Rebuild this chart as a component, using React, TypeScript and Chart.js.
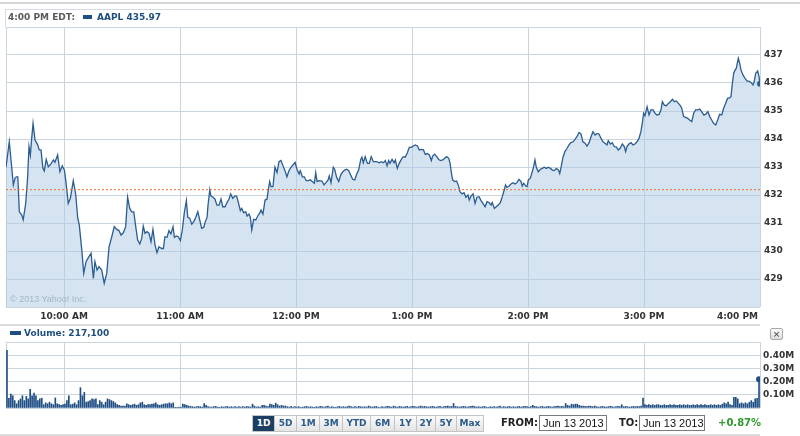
import React, { useEffect, useRef } from 'react';
import { Chart, registerables } from 'chart.js';
Chart.register(...registerables);

// minutes after 9:30 AM
const priceMinutes = [
  0, 1.7, 2.6, 3.8, 4.7, 5.3, 6.1, 6.9, 8.1, 8.9, 10.2, 11.2, 11.9, 12.6, 13.3, 14.0, 15.0, 16.4, 17.2, 18.1,
  19.1, 19.8, 20.8, 21.9, 23.3, 24.5, 25.3, 26.7, 27.9, 29.1, 30.2, 31.0, 32.2, 33.3, 34.8, 36.1, 37.1, 37.9, 39.2, 40.2,
  41.4, 42.9, 44.0, 45.2, 46.0, 47.1, 48.1, 49.5, 50.8, 52.1, 53.3, 54.7, 56.0, 57.3, 58.4, 59.5, 60.7, 61.9, 62.9, 64.0,
  65.0, 66.1, 67.1, 68.1, 69.2, 70.2, 71.0, 71.9, 72.9, 74.0, 75.0, 76.0, 77.1, 78.1, 79.1, 80.5, 81.4, 82.2, 83.3, 84.3,
  85.3, 86.4, 87.1, 88.1, 89.1, 90.2, 91.2, 92.2, 93.3, 94.0, 95.0, 96.1, 97.1, 98.1, 99.2, 100.2, 101.2, 102.3, 103.1, 104.0,
  104.5, 105.4, 106.0, 107.1, 108.1, 109.1, 110.2, 111.2, 112.1, 113.3, 114.3, 115.3, 116.2, 117.3, 118.3, 119.3, 120.2, 121.2, 121.9, 122.9,
  124.0, 124.7, 125.7, 126.4, 127.1, 128.1, 129.2, 130.2, 131.2, 131.9, 132.9, 134.0, 135.0, 135.7, 136.4, 137.1, 138.1, 139.1, 140.2, 141.2,
  142.2, 143.3, 144.3, 145.3, 146.4, 147.4, 148.4, 149.5, 150.5, 151.6, 152.2, 153.3, 154.3, 155.3, 156.4, 157.4, 158.4, 159.5, 160.2, 160.9,
  161.9, 163.4, 164.5, 165.5, 166.6, 167.2, 168.1, 169.3, 170.0, 171.0, 172.1, 173.1, 174.2, 175.2, 176.2, 177.3, 178.3, 179.3, 180.4, 181.4,
  182.4, 183.5, 184.1, 184.8, 185.8, 186.9, 187.9, 188.9, 190.0, 191.0, 192.1, 193.1, 194.1, 195.2, 196.2, 197.1, 197.9, 198.6, 199.7, 200.7,
  201.4, 202.4, 203.4, 204.5, 205.5, 206.5, 207.6, 208.6, 209.7, 210.7, 211.7, 212.8, 213.8, 214.8, 215.9, 216.9, 217.9, 219.0, 220.0, 220.7,
  221.7, 222.8, 223.8, 224.8, 225.9, 226.9, 227.9, 229.0, 229.7, 230.3, 231.0, 232.1, 233.1, 234.2, 234.8, 235.9, 236.9, 237.9, 239.0, 239.6,
  240.5, 241.6, 242.6, 243.6, 244.7, 245.7, 246.7, 247.8, 248.8, 249.8, 250.9, 251.5, 252.6, 253.6, 254.6, 255.7, 256.7, 257.7, 258.4, 259.1,
  260.2, 261.2, 262.2, 263.3, 264.3, 265.3, 266.4, 267.0, 267.8, 268.8, 269.5, 270.2, 271.2, 272.2, 272.9, 273.6, 274.3, 275.3, 276.4, 277.4,
  278.4, 279.5, 280.5, 281.6, 282.6, 283.6, 284.7, 285.7, 286.4, 287.1, 288.1, 289.1, 290.2, 291.2, 292.2, 293.3, 294.3, 295.3, 296.4, 297.4,
  298.4, 299.5, 300.5, 301.6, 302.6, 303.6, 304.7, 305.7, 306.7, 307.8, 308.8, 309.8, 310.9, 311.5, 312.6, 313.6, 314.6, 315.7, 316.7, 317.7,
  318.8, 319.8, 320.5, 321.2, 322.2, 323.3, 324.3, 325.3, 326.4, 327.4, 328.4, 329.1, 329.8, 330.5, 331.6, 332.6, 333.6, 334.7, 335.7, 336.7,
  337.8, 338.8, 339.5, 340.5, 341.6, 342.6, 343.6, 344.7, 345.7, 346.7, 347.8, 348.8, 349.5, 350.5, 351.6, 352.6, 353.6, 354.7, 355.7, 356.7,
  357.8, 358.8, 359.8, 360.9, 361.9, 363.0, 364.0, 365.0, 366.0, 367.1, 368.1, 369.1, 370.2, 371.2, 372.2, 373.2, 374.3, 375.0, 375.6, 376.4,
  377.1, 377.7, 378.8, 379.5, 380.2, 381.2, 382.2, 383.3, 384.3, 385.3, 386.4, 387.0, 387.8, 388.8, 389.5, 390.0,
];

const prices = [
  432.99, 433.90, 433.25, 432.36, 432.60, 432.65, 432.65, 431.40, 431.29, 431.11, 431.70, 432.65, 433.73, 433.43, 434.03, 434.56, 433.96, 433.79, 433.61, 433.61,
  432.95, 432.86, 433.27, 433.01, 433.11, 433.25, 433.17, 433.43, 432.83, 433.04, 432.89, 432.48, 431.70, 431.88, 432.51, 432.00, 431.17, 430.93, 430.04, 429.20,
  429.62, 429.80, 429.92, 429.02, 429.62, 429.32, 429.44, 429.32, 428.85, 429.20, 430.15, 430.51, 430.87, 430.77, 430.73, 430.57, 430.65, 430.87, 431.92, 431.52,
  431.40, 431.40, 430.87, 430.39, 430.25, 430.45, 430.89, 430.63, 430.69, 430.63, 430.33, 430.77, 430.21, 429.94, 430.15, 430.09, 430.09, 430.51, 430.49, 430.73,
  430.61, 430.87, 430.49, 430.54, 430.51, 430.37, 430.75, 431.35, 431.80, 431.20, 431.17, 430.96, 431.05, 431.20, 431.40, 431.11, 430.81, 430.85, 431.05, 431.20,
  431.64, 432.18, 431.96, 431.92, 431.85, 431.64, 431.64, 431.86, 431.58, 431.58, 431.73, 431.85, 432.04, 431.88, 431.96, 431.96, 431.73, 431.44, 431.52, 431.37,
  431.40, 431.25, 431.32, 431.20, 430.75, 431.13, 431.11, 431.25, 431.35, 431.46, 431.32, 431.82, 431.85, 432.20, 432.48, 432.30, 432.30, 432.99, 432.80, 433.19,
  433.23, 433.04, 432.87, 432.65, 432.87, 432.99, 433.07, 433.17, 432.92, 432.75, 432.87, 432.65, 432.65, 432.51, 432.51, 432.54, 432.48, 432.42, 432.80, 432.48,
  432.51, 432.50, 432.36, 432.44, 432.54, 432.68, 432.44, 432.99, 432.92, 432.63, 432.48, 432.71, 432.83, 432.89, 432.92, 432.87, 432.71, 432.56, 432.54, 432.75,
  432.89, 433.27, 433.35, 433.15, 433.37, 433.13, 433.13, 433.37, 433.19, 433.19, 433.18, 433.15, 433.19, 433.15, 433.23, 433.04, 433.23, 433.13, 433.27, 433.15,
  433.25, 432.95, 433.13, 433.27, 433.37, 433.35, 433.51, 433.70, 433.70, 433.75, 433.79, 433.75, 433.61, 433.63, 433.61, 433.45, 433.48, 433.43, 433.23, 433.39,
  433.46, 433.37, 433.27, 433.23, 433.25, 433.31, 433.37, 433.31, 433.13, 432.83, 432.54, 432.48, 432.50, 432.30, 432.12, 432.04, 432.08, 431.92, 432.00, 431.82,
  431.96, 432.04, 431.70, 431.92, 431.94, 431.80, 431.70, 431.58, 431.76, 431.73, 431.64, 431.73, 431.52, 431.58, 431.64, 431.73, 431.94, 432.18, 432.36, 432.27,
  432.32, 432.39, 432.44, 432.39, 432.44, 432.56, 432.48, 432.32, 432.42, 432.32, 432.30, 432.54, 432.60, 432.83, 433.01, 433.25, 432.99, 432.83, 432.92, 432.95,
  432.99, 432.95, 432.99, 432.95, 432.89, 432.87, 432.95, 432.89, 432.77, 432.99, 433.35, 433.55, 433.67, 433.79, 433.87, 433.90, 433.99, 434.08, 434.23, 434.18,
  433.90, 433.85, 433.75, 433.87, 434.08, 434.26, 434.14, 434.20, 434.18, 434.02, 433.90, 433.85, 433.79, 433.94, 433.82, 433.87, 433.73, 433.71, 433.61, 433.67,
  433.82, 433.73, 433.55, 433.73, 433.82, 433.87, 433.79, 433.82, 433.90, 434.02, 434.26, 434.56, 434.92, 434.83, 435.15, 434.86, 435.04, 435.04, 434.92, 434.86,
  434.88, 435.04, 435.33, 435.21, 435.19, 435.27, 435.33, 435.42, 435.33, 435.36, 435.27, 435.19, 435.10, 434.80, 434.77, 434.74, 434.68, 434.62, 434.92, 435.04,
  435.04, 435.07, 434.98, 434.86, 434.88, 434.98, 434.80, 434.68, 434.56, 434.50, 434.68, 434.88, 434.86, 435.10, 435.27, 435.45, 435.47, 435.51, 435.93, 436.35,
  436.46, 436.52, 436.88, 436.70, 436.46, 436.29, 436.17, 436.07, 436.07, 436.02, 435.93, 436.05, 436.35, 436.43, 436.23, 435.97,
];

const previousClose = 432.19;

const hourTicks = [30, 90, 150, 210, 270, 330, 390];
const hourLabels = ['10:00 AM', '11:00 AM', '12:00 PM', '1:00 PM', '2:00 PM', '3:00 PM', '4:00 PM'];
const priceTicks = [429, 430, 431, 432, 433, 434, 435, 436, 437];

// volume per minute, in thousands of shares
const volumeK = [
  436, 74, 105, 93, 56, 32, 56, 69, 93, 56, 88, 69, 142, 93, 113, 93, 56, 69, 74, 25, 39, 32, 44, 32, 25, 76, 32, 25, 20, 25,
  29, 56, 93, 25, 29, 39, 25, 56, 154, 93, 118, 44, 49, 56, 69, 64, 69, 25, 56, 44, 25, 44, 69, 64, 56, 49, 39, 25, 20, 15,
  15, 15, 32, 25, 20, 25, 29, 20, 25, 39, 44, 25, 20, 25, 25, 29, 32, 39, 25, 20, 25, 29, 32, 32, 39, 32, 39, 5, 5, 7,
  5, 29, 25, 20, 15, 12, 10, 7, 10, 12, 10, 7, 34, 20, 10, 7, 7, 10, 12, 7, 5, 10, 7, 10, 12, 7, 10, 7, 10, 7,
  10, 7, 10, 7, 12, 10, 7, 29, 15, 7, 10, 7, 20, 20, 15, 10, 29, 25, 20, 37, 25, 15, 20, 15, 15, 10, 7, 12, 7, 10,
  7, 10, 5, 7, 10, 12, 7, 10, 7, 5, 10, 7, 12, 10, 7, 10, 15, 7, 10, 7, 5, 10, 12, 7, 10, 7, 10, 15, 10, 7,
  10, 7, 12, 10, 7, 10, 7, 15, 10, 7, 10, 12, 7, 5, 10, 7, 10, 12, 10, 7, 15, 10, 7, 12, 10, 7, 10, 12, 7, 10,
  12, 10, 7, 10, 15, 10, 12, 10, 7, 10, 12, 10, 7, 10, 12, 7, 10, 12, 15, 10, 12, 34, 12, 10, 7, 10, 12, 10, 7, 10,
  12, 15, 10, 7, 10, 7, 10, 12, 7, 5, 10, 7, 10, 7, 10, 15, 7, 10, 7, 10, 12, 7, 10, 7, 10, 12, 7, 10, 12, 10,
  7, 10, 20, 12, 10, 7, 10, 12, 7, 10, 12, 10, 7, 10, 12, 15, 10, 12, 10, 34, 20, 15, 29, 25, 29, 29, 20, 15, 15, 12,
  10, 15, 12, 10, 15, 10, 7, 10, 12, 10, 7, 10, 12, 10, 7, 10, 12, 10, 25, 10, 12, 10, 7, 10, 12, 10, 12, 10, 15, 76,
  25, 20, 25, 20, 25, 20, 25, 25, 20, 20, 25, 20, 20, 25, 20, 25, 20, 20, 25, 20, 25, 20, 25, 20, 20, 25, 20, 25, 20, 25,
  20, 25, 20, 20, 25, 20, 25, 20, 25, 20, 29, 39, 32, 44, 25, 20, 81, 81, 69, 32, 39, 32, 39, 32, 44, 56, 44, 69, 74, 217,
];
const volumeTicks = [100, 200, 300, 400];
const volumeTickLabels = ['0.10M', '0.20M', '0.30M', '0.40M'];

const LINE = '#2b5d92';
const BAR = '#1f4e85';
const GRID = '#cbd5df';
const TICK_FONT = { family: 'DejaVu Sans', size: 9, weight: 'bold' as const };

const xLabelPlugin = {
  id: 'xLabels',
  afterDraw(chart: any) {
    const { ctx, chartArea, scales } = chart;
    ctx.save();
    ctx.font = 'bold 9px "DejaVu Sans"';
    ctx.fillStyle = '#333';
    ctx.textBaseline = 'middle';
    ctx.textAlign = 'left';
    hourTicks.forEach((v, i) => {
      const label = hourLabels[i];
      const px = scales.x.getPixelForValue(v);
      const w = ctx.measureText(label).width;
      let left = px - w / 2;
      if (left + w > chartArea.right - 2) left = chartArea.right - 2 - w;
      ctx.fillText(label, left, chartArea.bottom + 9.5);
    });
    ctx.restore();
  },
};

const noLabelPadding = (s: any) => {
  s.width = 40;
  s.paddingTop = 0;
  s.paddingBottom = 0;
};

function PriceChart() {
  const ref = useRef<HTMLCanvasElement>(null);
  useEffect(() => {
    const chart = new Chart(ref.current as HTMLCanvasElement, {
      type: 'line',
      data: {
        datasets: [
          {
            data: [{ x: 0, y: previousClose }, { x: 390, y: previousClose }],
            borderColor: '#f0702c',
            borderWidth: 1,
            borderDash: [2, 2],
            pointRadius: 0,
            fill: false,
            order: 0,
          },
          {
            data: priceMinutes.map((m, i) => ({ x: m, y: prices[i] })),
            borderColor: LINE,
            borderWidth: 1.3,
            backgroundColor: 'rgba(172,202,226,0.5)',
            fill: 'start',
            tension: 0,
            pointRadius: (c: any) => (c.dataIndex === prices.length - 1 ? 3 : 0),
            pointBackgroundColor: LINE,
            pointBorderWidth: 0,
            order: 1,
          },
        ],
      },
      options: {
        animation: false,
        responsive: false,
        events: [],
        layout: { padding: { left: 6, top: 27, right: 0, bottom: 0 } },
        plugins: { legend: { display: false }, tooltip: { enabled: false } },
        scales: {
          x: {
            type: 'linear',
            min: 0,
            max: 390,
            afterBuildTicks: (s: any) => {
              s.ticks = [0, ...hourTicks].map((v) => ({ value: v }));
            },
            ticks: { display: false },
            grid: { color: GRID, drawTicks: false },
            border: { display: false },
            afterFit: (s: any) => {
              s.height = 18;
            },
          },
          y: {
            position: 'right',
            min: 428,
            max: 438,
            ticks: {
              stepSize: 1,
              autoSkip: false,
              padding: 4,
              color: '#333',
              font: TICK_FONT,
              callback: (v: any) => (priceTicks.includes(v) ? String(v) : ''),
            },
            grid: { color: GRID, drawTicks: false },
            border: { display: false },
            afterFit: noLabelPadding,
          },
        },
      } as any,
      plugins: [xLabelPlugin],
    });
    return () => chart.destroy();
  }, []);
  return (
    <canvas
      ref={ref}
      width={800}
      height={325}
      style={{ position: 'absolute', left: 0, top: 0, width: 800, height: 325 }}
    />
  );
}

function VolumeChart() {
  const ref = useRef<HTMLCanvasElement>(null);
  useEffect(() => {
    const last = volumeK.length - 1;
    const chart = new Chart(ref.current as HTMLCanvasElement, {
      type: 'bar',
      data: {
        datasets: [
          {
            type: 'scatter',
            data: [{ x: last + 0.5, y: volumeK[last] }],
            pointRadius: 3,
            backgroundColor: BAR,
            borderWidth: 0,
            order: 0,
          } as any,
          {
            type: 'bar',
            data: volumeK.map((v, i) => ({ x: i + 0.5, y: v })),
            backgroundColor: BAR,
            barThickness: 1,
            order: 1,
          },
        ],
      },
      options: {
        animation: false,
        responsive: false,
        events: [],
        layout: { padding: { left: 6, top: 16, right: 0, bottom: 0 } },
        plugins: { legend: { display: false }, tooltip: { enabled: false } },
        scales: {
          x: {
            type: 'linear',
            min: 0,
            max: 390,
            offset: false,
            afterBuildTicks: (s: any) => {
              s.ticks = [0, ...hourTicks].map((v) => ({ value: v }));
            },
            ticks: { display: false },
            grid: { color: GRID, drawTicks: false, offset: false },
            border: { display: false },
            afterFit: (s: any) => {
              s.height = 2;
            },
          },
          y: {
            position: 'right',
            min: 0,
            max: 500,
            ticks: {
              stepSize: 100,
              autoSkip: false,
              padding: 3,
              color: '#333',
              font: TICK_FONT,
              callback: (v: any) => {
                const i = volumeTicks.indexOf(v);
                return i >= 0 ? volumeTickLabels[i] : '';
              },
            },
            grid: { color: GRID, drawTicks: false },
            border: { display: false },
            afterFit: noLabelPadding,
          },
        },
      } as any,
    });
    return () => chart.destroy();
  }, []);
  return (
    <canvas
      ref={ref}
      width={800}
      height={86}
      style={{ position: 'absolute', left: 0, top: 326, width: 800, height: 86 }}
    />
  );
}

const bold9: React.CSSProperties = {
  position: 'absolute',
  fontFamily: '"DejaVu Sans", Verdana, sans-serif',
  fontWeight: 'bold',
  fontSize: 9,
  lineHeight: '12px',
  whiteSpace: 'nowrap',
};

const rangeButtons = [
  { label: '1D', x: 252, w: 23 },
  { label: '5D', x: 275, w: 22 },
  { label: '1M', x: 297, w: 23 },
  { label: '3M', x: 320, w: 23 },
  { label: 'YTD', x: 343, w: 28 },
  { label: '6M', x: 371, w: 24 },
  { label: '1Y', x: 395, w: 22 },
  { label: '2Y', x: 417, w: 19 },
  { label: '5Y', x: 436, w: 21 },
  { label: 'Max', x: 457, w: 27 },
];

const dateBox: React.CSSProperties = {
  position: 'absolute',
  top: 415,
  height: 16,
  boxSizing: 'border-box',
  border: '1px solid #7a7a7a',
  fontFamily: '"Liberation Sans", Arial, sans-serif',
  fontSize: 11,
  lineHeight: '14px',
  paddingLeft: 3,
  color: '#111',
  whiteSpace: 'nowrap',
};

export default function App() {
  return (
    <div style={{ position: 'absolute', left: 0, top: 0, width: 800, height: 436, background: '#fff', overflow: 'hidden' }}>
      <div style={{ position: 'absolute', left: 0, top: 2, width: 800, height: 2, background: '#d6d6d6' }} />
      <div
        style={{
          position: 'absolute',
          left: 5,
          top: 9,
          width: 755,
          height: 18,
          borderTop: '1px solid #d3dae1',
          borderLeft: '1px solid #d3dae1',
          boxSizing: 'border-box',
        }}
      />
      <PriceChart />
      <div style={{ ...bold9, left: 8, top: 11, color: '#5a5a5a' }}>4:00 PM EDT:</div>
      <div style={{ position: 'absolute', left: 83, top: 15, width: 9, height: 4, background: '#1f4f82' }} />
      <div style={{ ...bold9, left: 97, top: 11, color: '#1f4f82' }}>AAPL 435.97</div>
      <div
        style={{
          position: 'absolute',
          left: 10,
          top: 294,
          fontFamily: '"Liberation Sans", Arial, sans-serif',
          fontSize: 9,
          color: '#a7b6c4',
          whiteSpace: 'nowrap',
        }}
      >
        © 2013 Yahoo! Inc.
      </div>
      <div style={{ position: 'absolute', left: 0, top: 324, width: 760, height: 2, background: '#dcdcdc' }} />
      <VolumeChart />
      <div style={{ position: 'absolute', left: 10, top: 331, width: 11, height: 4, background: '#1f4f82' }} />
      <div style={{ ...bold9, left: 24, top: 327, color: '#1f4f82' }}>Volume: 217,100</div>
      <div
        style={{
          position: 'absolute',
          left: 770,
          top: 328,
          width: 13,
          height: 12,
          boxSizing: 'border-box',
          border: '1px solid #a9a9a9',
          borderRadius: 2,
          background: 'linear-gradient(#fafafa, #dcdcdc)',
          fontFamily: '"DejaVu Sans", sans-serif',
          fontSize: 9,
          lineHeight: '10px',
          textAlign: 'center',
          color: '#333',
        }}
      >
        ×
      </div>
      {rangeButtons.map((b, i) => (
        <div
          key={b.label}
          style={{
            ...bold9,
            left: b.x,
            top: 415,
            width: b.w,
            height: 17,
            boxSizing: 'border-box',
            border: '1px solid #c4c4c4',
            borderLeft: i === 0 ? '1px solid #c4c4c4' : 'none',
            background: i === 0 ? '#1d3e63' : 'linear-gradient(#fbfbfb, #e4e4e4)',
            color: i === 0 ? '#fff' : '#2a5b8c',
            textAlign: 'center',
            lineHeight: '15px',
          }}
        >
          {b.label}
        </div>
      ))}
      <div style={{ ...bold9, fontSize: 10, left: 501, top: 417, color: '#222' }}>FROM:</div>
      <div style={{ ...dateBox, left: 539, width: 68 }}>Jun 13 2013</div>
      <div style={{ ...bold9, fontSize: 10, left: 619, top: 417, color: '#222' }}>TO:</div>
      <div style={{ ...dateBox, left: 639, width: 66 }}>Jun 13 2013</div>
      <div style={{ ...bold9, fontSize: 10, left: 718, top: 417, color: '#2e9a2e' }}>+0.87%</div>
      <div style={{ position: 'absolute', left: 0, top: 434, width: 760, height: 2, background: '#dcdcdc' }} />
    </div>
  );
}
